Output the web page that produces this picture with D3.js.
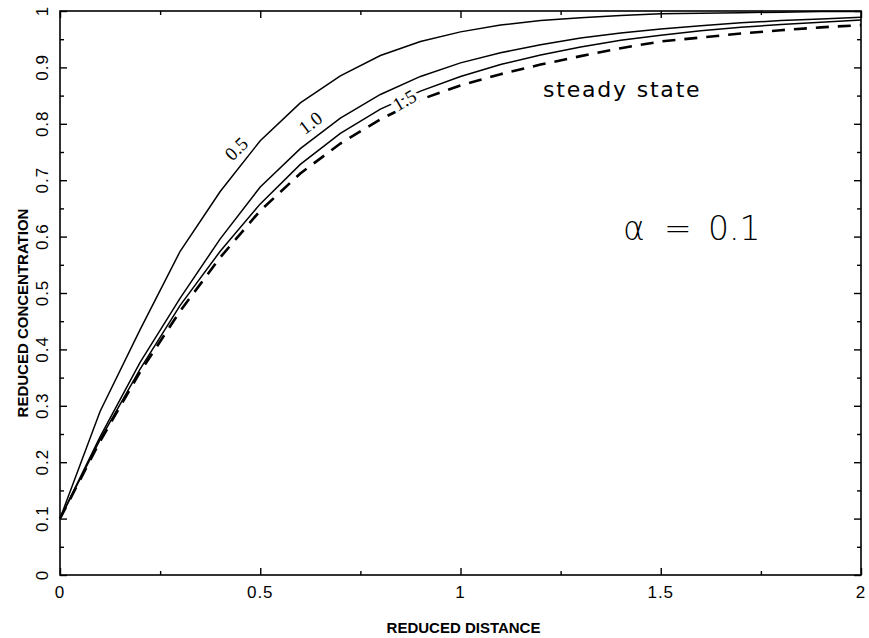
<!DOCTYPE html>
<html>
<head>
<meta charset="utf-8">
<script src="https://cdn.jsdelivr.net/npm/d3@7"></script>
<style>
  body { margin: 0; background: #fff; }
  svg { display: block; }
  .axis path { display: none; }
  .axis line { stroke: #000; stroke-width: 1.4; }
</style>
</head>
<body>
<div id="chart"></div>
<script>
var distance = [0, 0.1, 0.2, 0.3, 0.4, 0.5, 0.6, 0.7, 0.8, 0.9, 1.0,
                1.1, 1.2, 1.3, 1.4, 1.5, 1.6, 1.7, 1.8, 1.9, 2.0];

// reduced concentration for each time value, plus steady state (dashed)
var conc05 = [0.1, 0.29, 0.435, 0.574, 0.68, 0.77, 0.837, 0.885, 0.921, 0.946, 0.963,
              0.975, 0.983, 0.988, 0.992, 0.995, 0.996, 0.997, 0.998, 0.999, 0.999];
var conc10 = [0.1, 0.245, 0.377, 0.491, 0.596, 0.688, 0.756, 0.81, 0.852, 0.884, 0.908,
              0.926, 0.94, 0.952, 0.961, 0.968, 0.974, 0.979, 0.983, 0.986, 0.989];
var conc15 = [0.1, 0.24, 0.365, 0.478, 0.574, 0.658, 0.728, 0.783, 0.826, 0.858, 0.884,
              0.905, 0.922, 0.936, 0.948, 0.957, 0.965, 0.971, 0.976, 0.98, 0.984];
var concSteady = [0.1, 0.237, 0.36, 0.468, 0.563, 0.646, 0.712, 0.765, 0.808, 0.843, 0.868,
                  0.888, 0.905, 0.92, 0.934, 0.946, 0.953, 0.96, 0.966, 0.971, 0.975];

var curveNames = ["0.5", "1.0", "1.5"];
var xTickLabels = ["0", "0.5", "1", "1.5", "2"];
var yTickLabels = ["0", "0.1", "0.2", "0.3", "0.4", "0.5", "0.6", "0.7", "0.8", "0.9", "1"];

var svgWidth = 869;
var svgHeight = 638;
var margin = { top: 11, right: 8, bottom: 63, left: 60 };
var width = svgWidth - margin.left - margin.right;
var height = svgHeight - margin.top - margin.bottom;

var svg = d3.select("#chart").append("svg")
    .attr("width", svgWidth)
    .attr("height", svgHeight);

var chartGroup = svg.append("g")
    .attr("transform", `translate(${margin.left}, ${margin.top})`);

var xScale = d3.scaleLinear().domain([0, 2]).range([0, width]);
var yScale = d3.scaleLinear().domain([0, 1]).range([height, 0]);

var xMajor = xTickLabels.map(Number);
var xMinor = [0.25, 0.75, 1.25, 1.75];
var yMajor = yTickLabels.map(Number);
var yMinor = d3.range(0.05, 1, 0.1);

// inward ticks on all four sides
function addTicks(axisFn, scale, values, size, transform) {
    chartGroup.append("g")
        .attr("class", "axis")
        .attr("transform", transform)
        .call(axisFn(scale).tickValues(values).tickSize(-size).tickFormat(""));
}
addTicks(d3.axisBottom, xScale, xMajor, 7, `translate(0, ${height})`);
addTicks(d3.axisBottom, xScale, xMinor, 4, `translate(0, ${height})`);
addTicks(d3.axisTop, xScale, xMajor, 7, "translate(0, 0)");
addTicks(d3.axisTop, xScale, xMinor, 4, "translate(0, 0)");
addTicks(d3.axisLeft, yScale, yMajor, 7, "translate(0, 0)");
addTicks(d3.axisLeft, yScale, yMinor, 4, "translate(0, 0)");
addTicks(d3.axisRight, yScale, yMajor, 7, `translate(${width}, 0)`);
addTicks(d3.axisRight, yScale, yMinor, 4, `translate(${width}, 0)`);

// frame
chartGroup.append("rect")
    .attr("width", width)
    .attr("height", height)
    .attr("fill", "none")
    .attr("stroke", "#000")
    .attr("stroke-width", 1.6);

// tick labels
chartGroup.selectAll(".xlab")
    .data(xTickLabels)
    .enter().append("text")
    .attr("x", d => xScale(+d))
    .attr("y", height + 23)
    .attr("text-anchor", "middle")
    .attr("font-family", "Liberation Sans, Arial, sans-serif")
    .attr("font-size", 17)
    .attr("letter-spacing", 1)
    .text(d => d);

chartGroup.selectAll(".ylab")
    .data(yTickLabels)
    .enter().append("text")
    .attr("transform", d => `translate(-12, ${yScale(+d)}) rotate(-90)`)
    .attr("text-anchor", "middle")
    .attr("font-family", "Liberation Sans, Arial, sans-serif")
    .attr("font-size", 17)
    .attr("letter-spacing", 1)
    .text(d => d);

// axis titles
chartGroup.append("text")
    .attr("x", width / 2 + 3)
    .attr("y", height + 58)
    .attr("text-anchor", "middle")
    .attr("font-family", "Liberation Sans, Arial, sans-serif")
    .attr("font-weight", "bold")
    .attr("font-size", 15)
    .text("REDUCED DISTANCE");

chartGroup.append("text")
    .attr("transform", `translate(-32, ${height / 2 + 20}) rotate(-90)`)
    .attr("text-anchor", "middle")
    .attr("font-family", "Liberation Sans, Arial, sans-serif")
    .attr("font-weight", "bold")
    .attr("font-size", 15)
    .text("REDUCED CONCENTRATION");

// curves
var line = d3.line()
    .x((d, i) => xScale(distance[i]))
    .y(d => yScale(d));

[conc05, conc10, conc15].forEach(function (series) {
    chartGroup.append("path")
        .datum(series)
        .attr("d", line)
        .attr("fill", "none")
        .attr("stroke", "#000")
        .attr("stroke-width", 1.5);
});

chartGroup.append("path")
    .datum(concSteady)
    .attr("d", line)
    .attr("fill", "none")
    .attr("stroke", "#000")
    .attr("stroke-width", 2.6)
    .attr("stroke-dasharray", "13,9");

// curve labels (x, y in data units, angle in degrees)
var labelSpots = [[0.44, 0.756, -44], [0.625, 0.802, -37], [0.86, 0.842, -30]];
curveNames.forEach(function (name, i) {
    var s = labelSpots[i];
    chartGroup.append("text")
        .attr("transform", `translate(${xScale(s[0])}, ${yScale(s[1])}) rotate(${s[2]})`)
        .attr("text-anchor", "middle")
        .attr("dy", "0.35em")
        .attr("font-family", "Liberation Serif, Times New Roman, serif")
        .attr("font-size", 19)
        .attr("stroke", "#fff")
        .attr("stroke-width", i === 2 ? 7 : 0)
        .attr("paint-order", "stroke")
        .attr("fill", "#000")
        .text(name);
});

// annotations
svg.append("text")
    .attr("x", 543)
    .attr("y", 97)
    .attr("font-family", "DejaVu Sans, sans-serif")
    .attr("font-size", 22)
    .attr("letter-spacing", 1.8)
    .text("steady state");

var alphaParts = [["\u03B1", 623], ["=", 664], ["0.1", 708]];
alphaParts.forEach(function (p) {
    svg.append("text")
        .attr("x", p[1])
        .attr("y", 240)
        .attr("font-family", "DejaVu Sans, sans-serif")
        .attr("font-weight", 200)
        .attr("font-size", 33)
        .text(p[0]);
});
</script>
</body>
</html>
